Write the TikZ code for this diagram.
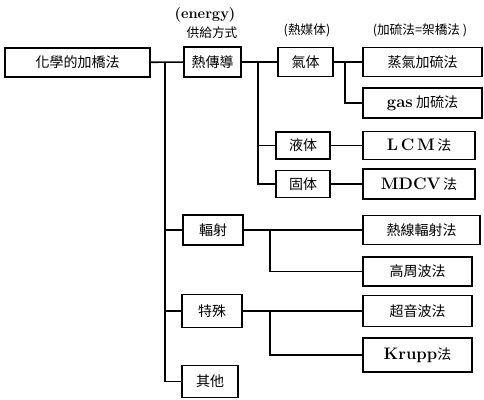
\documentclass[tikz,border=0pt]{standalone}
\usepackage{fontspec}
\newfontfamily\cjk{Noto Sans CJK TC}
\usetikzlibrary{positioning}

\tikzset{
  box/.style={draw, line width=1.4pt, inner sep=0pt, minimum height=29*0.75pt, font=\cjk\fontsize{10.5}{12}\selectfont},
  wd/.style={minimum width=#1*0.75pt},
  ht/.style={minimum height=#1*0.75pt},
  link/.style={line width=1.2pt},
  head/.style={font=\cjk\fontsize{9.5}{11}\selectfont}
}

\begin{document}
\begin{tikzpicture}[x=0.75pt, y=-0.75pt]

    \useasboundingbox (0,0) rectangle (484,399);

    % headings
    \node[font=\rmfamily\bfseries\fontsize{11}{13}\selectfont] (energy) at (205,15) {(energy)};
    \node[head] (supply) at (212,33) {供給方式};
    \node[head] (medium) at (307,30) {(熱媒体)};
    \node[head] (vulc) at (420,30) {(加硫法=架橋法 )};

    % boxes
    \node[box, wd=145] (root) at (77.5,62.5) {化學的加橋法};
    \node[box, wd=57, ht=30] (heat) at (212.5,62) {熱傳導};
    \node[box, wd=55] (gas) at (305.5,62) {氣体};
    \node[box, wd=119] (steam) at (422.5,62) {蒸氣加硫法};
    \node[box, wd=119, ht=30] (gasv) at (422.5,103) {{\rmfamily\bfseries\fontsize{12.5}{14}\selectfont gas} 加硫法};
    \node[box, wd=54, ht=27] (liquid) at (303,145.5) {液体};
    \node[box, wd=112, ht=28] (lcm) at (419,145.5) {{\rmfamily\bfseries\fontsize{12.5}{14}\selectfont L\,C\,M}\,法};
    \node[box, wd=54, ht=27] (solid) at (303,184) {固体};
    \node[box, wd=112, ht=30] (mdcv) at (419,184) {{\rmfamily\bfseries\fontsize{12.5}{14}\selectfont MDCV}\,法};
    \node[box, wd=60, ht=30] (rad) at (213,230) {輻射};
    \node[box, wd=117] (hotwire) at (421.5,230) {熱線輻射法};
    \node[box, wd=109] (hf) at (417.5,271.5) {高周波法};
    \node[box, wd=60, ht=33] (special) at (212,311) {特殊};
    \node[box, wd=109, ht=31] (ultra) at (417.5,311) {超音波法};
    \node[box, wd=109, ht=34] (krupp) at (417.5,355) {{\rmfamily\bfseries\fontsize{12.5}{14}\selectfont Krupp}法};
    \node[box, wd=56, ht=32] (other) at (210,381.5) {其他};

    % trunk
    \coordinate (trunk) at (165,62.5);
    \draw[link] (root) -- (heat);
    \draw[link] (trunk) |- (other.west);
    \draw[link] (trunk |- rad) -- (rad.west);
    \draw[link] (trunk |- special) -- (special.west);

    % heat medium
    \coordinate (hb) at (258,62);
    \draw[link] (heat) -- (gas);
    \draw[link] (hb) |- (solid.west);
    \draw[link] (hb |- liquid) -- (liquid.west);
    \draw[link] (liquid) -- (lcm);
    \draw[link] (solid) -- (mdcv);

    % gas
    \coordinate (gb) at (345,62);
    \draw[link] (gas) -- (steam);
    \draw[link] (gb) |- (gasv.west);

    % radiation
    \coordinate (rb) at (270,230);
    \draw[link] (rad) -- (hotwire);
    \draw[link] (rb) |- (hf.west);

    % special
    \coordinate (sb) at (270,311);
    \draw[link] (special) -- (ultra);
    \draw[link] (sb) |- (krupp.west);

\end{tikzpicture}
\end{document}
